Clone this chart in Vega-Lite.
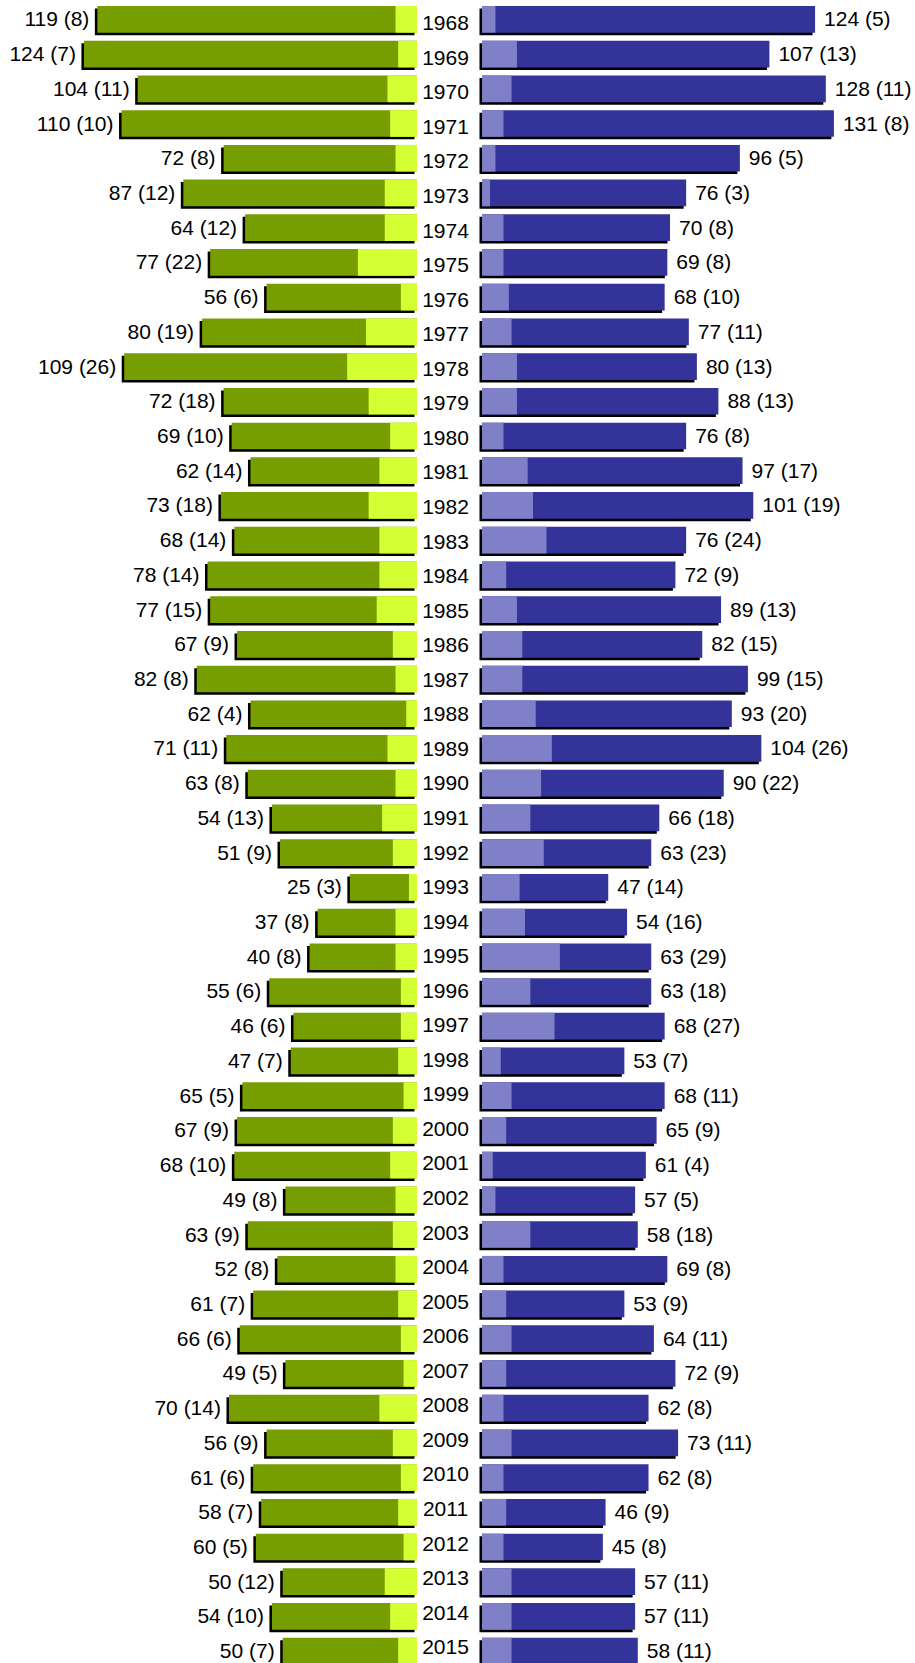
{
  "$schema": "https://vega.github.io/schema/vega-lite/v6.json",
  "padding": 0,
  "spacing": 0,
  "bounds": "flush",
  "config": {
    "view": {"stroke": null},
    "text": {"font": "Liberation Sans", "fontSize": 21, "color": "#000000"}
  },
  "data": {
    "values": [
      {"year": "1968", "lt": 119, "ll": 8, "lab_l": "119 (8)", "rt": 124, "rl": 5, "lab_r": "124 (5)"},
      {"year": "1969", "lt": 124, "ll": 7, "lab_l": "124 (7)", "rt": 107, "rl": 13, "lab_r": "107 (13)"},
      {"year": "1970", "lt": 104, "ll": 11, "lab_l": "104 (11)", "rt": 128, "rl": 11, "lab_r": "128 (11)"},
      {"year": "1971", "lt": 110, "ll": 10, "lab_l": "110 (10)", "rt": 131, "rl": 8, "lab_r": "131 (8)"},
      {"year": "1972", "lt": 72, "ll": 8, "lab_l": "72 (8)", "rt": 96, "rl": 5, "lab_r": "96 (5)"},
      {"year": "1973", "lt": 87, "ll": 12, "lab_l": "87 (12)", "rt": 76, "rl": 3, "lab_r": "76 (3)"},
      {"year": "1974", "lt": 64, "ll": 12, "lab_l": "64 (12)", "rt": 70, "rl": 8, "lab_r": "70 (8)"},
      {"year": "1975", "lt": 77, "ll": 22, "lab_l": "77 (22)", "rt": 69, "rl": 8, "lab_r": "69 (8)"},
      {"year": "1976", "lt": 56, "ll": 6, "lab_l": "56 (6)", "rt": 68, "rl": 10, "lab_r": "68 (10)"},
      {"year": "1977", "lt": 80, "ll": 19, "lab_l": "80 (19)", "rt": 77, "rl": 11, "lab_r": "77 (11)"},
      {"year": "1978", "lt": 109, "ll": 26, "lab_l": "109 (26)", "rt": 80, "rl": 13, "lab_r": "80 (13)"},
      {"year": "1979", "lt": 72, "ll": 18, "lab_l": "72 (18)", "rt": 88, "rl": 13, "lab_r": "88 (13)"},
      {"year": "1980", "lt": 69, "ll": 10, "lab_l": "69 (10)", "rt": 76, "rl": 8, "lab_r": "76 (8)"},
      {"year": "1981", "lt": 62, "ll": 14, "lab_l": "62 (14)", "rt": 97, "rl": 17, "lab_r": "97 (17)"},
      {"year": "1982", "lt": 73, "ll": 18, "lab_l": "73 (18)", "rt": 101, "rl": 19, "lab_r": "101 (19)"},
      {"year": "1983", "lt": 68, "ll": 14, "lab_l": "68 (14)", "rt": 76, "rl": 24, "lab_r": "76 (24)"},
      {"year": "1984", "lt": 78, "ll": 14, "lab_l": "78 (14)", "rt": 72, "rl": 9, "lab_r": "72 (9)"},
      {"year": "1985", "lt": 77, "ll": 15, "lab_l": "77 (15)", "rt": 89, "rl": 13, "lab_r": "89 (13)"},
      {"year": "1986", "lt": 67, "ll": 9, "lab_l": "67 (9)", "rt": 82, "rl": 15, "lab_r": "82 (15)"},
      {"year": "1987", "lt": 82, "ll": 8, "lab_l": "82 (8)", "rt": 99, "rl": 15, "lab_r": "99 (15)"},
      {"year": "1988", "lt": 62, "ll": 4, "lab_l": "62 (4)", "rt": 93, "rl": 20, "lab_r": "93 (20)"},
      {"year": "1989", "lt": 71, "ll": 11, "lab_l": "71 (11)", "rt": 104, "rl": 26, "lab_r": "104 (26)"},
      {"year": "1990", "lt": 63, "ll": 8, "lab_l": "63 (8)", "rt": 90, "rl": 22, "lab_r": "90 (22)"},
      {"year": "1991", "lt": 54, "ll": 13, "lab_l": "54 (13)", "rt": 66, "rl": 18, "lab_r": "66 (18)"},
      {"year": "1992", "lt": 51, "ll": 9, "lab_l": "51 (9)", "rt": 63, "rl": 23, "lab_r": "63 (23)"},
      {"year": "1993", "lt": 25, "ll": 3, "lab_l": "25 (3)", "rt": 47, "rl": 14, "lab_r": "47 (14)"},
      {"year": "1994", "lt": 37, "ll": 8, "lab_l": "37 (8)", "rt": 54, "rl": 16, "lab_r": "54 (16)"},
      {"year": "1995", "lt": 40, "ll": 8, "lab_l": "40 (8)", "rt": 63, "rl": 29, "lab_r": "63 (29)"},
      {"year": "1996", "lt": 55, "ll": 6, "lab_l": "55 (6)", "rt": 63, "rl": 18, "lab_r": "63 (18)"},
      {"year": "1997", "lt": 46, "ll": 6, "lab_l": "46 (6)", "rt": 68, "rl": 27, "lab_r": "68 (27)"},
      {"year": "1998", "lt": 47, "ll": 7, "lab_l": "47 (7)", "rt": 53, "rl": 7, "lab_r": "53 (7)"},
      {"year": "1999", "lt": 65, "ll": 5, "lab_l": "65 (5)", "rt": 68, "rl": 11, "lab_r": "68 (11)"},
      {"year": "2000", "lt": 67, "ll": 9, "lab_l": "67 (9)", "rt": 65, "rl": 9, "lab_r": "65 (9)"},
      {"year": "2001", "lt": 68, "ll": 10, "lab_l": "68 (10)", "rt": 61, "rl": 4, "lab_r": "61 (4)"},
      {"year": "2002", "lt": 49, "ll": 8, "lab_l": "49 (8)", "rt": 57, "rl": 5, "lab_r": "57 (5)"},
      {"year": "2003", "lt": 63, "ll": 9, "lab_l": "63 (9)", "rt": 58, "rl": 18, "lab_r": "58 (18)"},
      {"year": "2004", "lt": 52, "ll": 8, "lab_l": "52 (8)", "rt": 69, "rl": 8, "lab_r": "69 (8)"},
      {"year": "2005", "lt": 61, "ll": 7, "lab_l": "61 (7)", "rt": 53, "rl": 9, "lab_r": "53 (9)"},
      {"year": "2006", "lt": 66, "ll": 6, "lab_l": "66 (6)", "rt": 64, "rl": 11, "lab_r": "64 (11)"},
      {"year": "2007", "lt": 49, "ll": 5, "lab_l": "49 (5)", "rt": 72, "rl": 9, "lab_r": "72 (9)"},
      {"year": "2008", "lt": 70, "ll": 14, "lab_l": "70 (14)", "rt": 62, "rl": 8, "lab_r": "62 (8)"},
      {"year": "2009", "lt": 56, "ll": 9, "lab_l": "56 (9)", "rt": 73, "rl": 11, "lab_r": "73 (11)"},
      {"year": "2010", "lt": 61, "ll": 6, "lab_l": "61 (6)", "rt": 62, "rl": 8, "lab_r": "62 (8)"},
      {"year": "2011", "lt": 58, "ll": 7, "lab_l": "58 (7)", "rt": 46, "rl": 9, "lab_r": "46 (9)"},
      {"year": "2012", "lt": 60, "ll": 5, "lab_l": "60 (5)", "rt": 45, "rl": 8, "lab_r": "45 (8)"},
      {"year": "2013", "lt": 50, "ll": 12, "lab_l": "50 (12)", "rt": 57, "rl": 11, "lab_r": "57 (11)"},
      {"year": "2014", "lt": 54, "ll": 10, "lab_l": "54 (10)", "rt": 57, "rl": 11, "lab_r": "57 (11)"},
      {"year": "2015", "lt": 50, "ll": 7, "lab_l": "50 (7)", "rt": 58, "rl": 11, "lab_r": "58 (11)"}
    ]
  },
  "hconcat": [
    {
      "width": 417,
      "height": 1663,
      "encoding": {
        "y": {"field": "year", "type": "ordinal", "axis": null, "sort": null,
              "scale": {"range": [6, 1664.5], "paddingInner": 0.231, "paddingOuter": 0}}
      },
      "layer": [
        {
          "mark": {"type": "bar", "color": "#000000", "clip": true, "xOffset": -2.5, "x2Offset": -2.5, "yOffset": 2.5, "y2Offset": 2.5},
          "encoding": {"x": {"field": "lt", "type": "quantitative", "axis": null, "scale": {"domain": [0, 155.25], "reverse": true, "nice": false, "zero": true}}}
        },
        {
          "mark": {"type": "bar", "color": "#779E00", "clip": true},
          "encoding": {"x": {"field": "lt", "type": "quantitative", "axis": null}}
        },
        {
          "mark": {"type": "bar", "color": "#D4FF33", "clip": true},
          "encoding": {"x": {"field": "ll", "type": "quantitative", "axis": null}}
        },
        {
          "mark": {"type": "text", "align": "right", "baseline": "middle", "dx": -8, "dy": 1},
          "encoding": {
            "x": {"field": "lt", "type": "quantitative", "axis": null},
            "text": {"field": "lab_l"}
          }
        }
      ]
    },
    {
      "width": 65,
      "height": 1663,
      "mark": {"type": "text", "align": "center", "baseline": "middle", "dx": -4, "dy": 1},
      "encoding": {
        "y": {"field": "year", "type": "ordinal", "axis": null, "sort": null,
              "scale": {"range": [6, 1664.5], "paddingInner": 0.231, "paddingOuter": 0}},
        "text": {"field": "year"}
      }
    },
    {
      "width": 433,
      "height": 1663,
      "encoding": {
        "y": {"field": "year", "type": "ordinal", "axis": null, "sort": null,
              "scale": {"range": [6, 1664.5], "paddingInner": 0.231, "paddingOuter": 0}}
      },
      "layer": [
        {
          "mark": {"type": "bar", "color": "#000000", "clip": false, "xOffset": -2.5, "x2Offset": -2.5, "yOffset": 2.5, "y2Offset": 2.5},
          "encoding": {"x": {"field": "rt", "type": "quantitative", "axis": null, "scale": {"domain": [0, 161.2], "nice": false, "zero": true}}}
        },
        {
          "mark": {"type": "bar", "color": "#333399", "clip": false},
          "encoding": {"x": {"field": "rt", "type": "quantitative", "axis": null}}
        },
        {
          "mark": {"type": "bar", "color": "#8080C8", "clip": false},
          "encoding": {"x": {"field": "rl", "type": "quantitative", "axis": null}}
        },
        {
          "mark": {"type": "text", "align": "left", "baseline": "middle", "dx": 9, "dy": 1},
          "encoding": {
            "x": {"field": "rt", "type": "quantitative", "axis": null},
            "text": {"field": "lab_r"}
          }
        }
      ]
    }
  ]
}
